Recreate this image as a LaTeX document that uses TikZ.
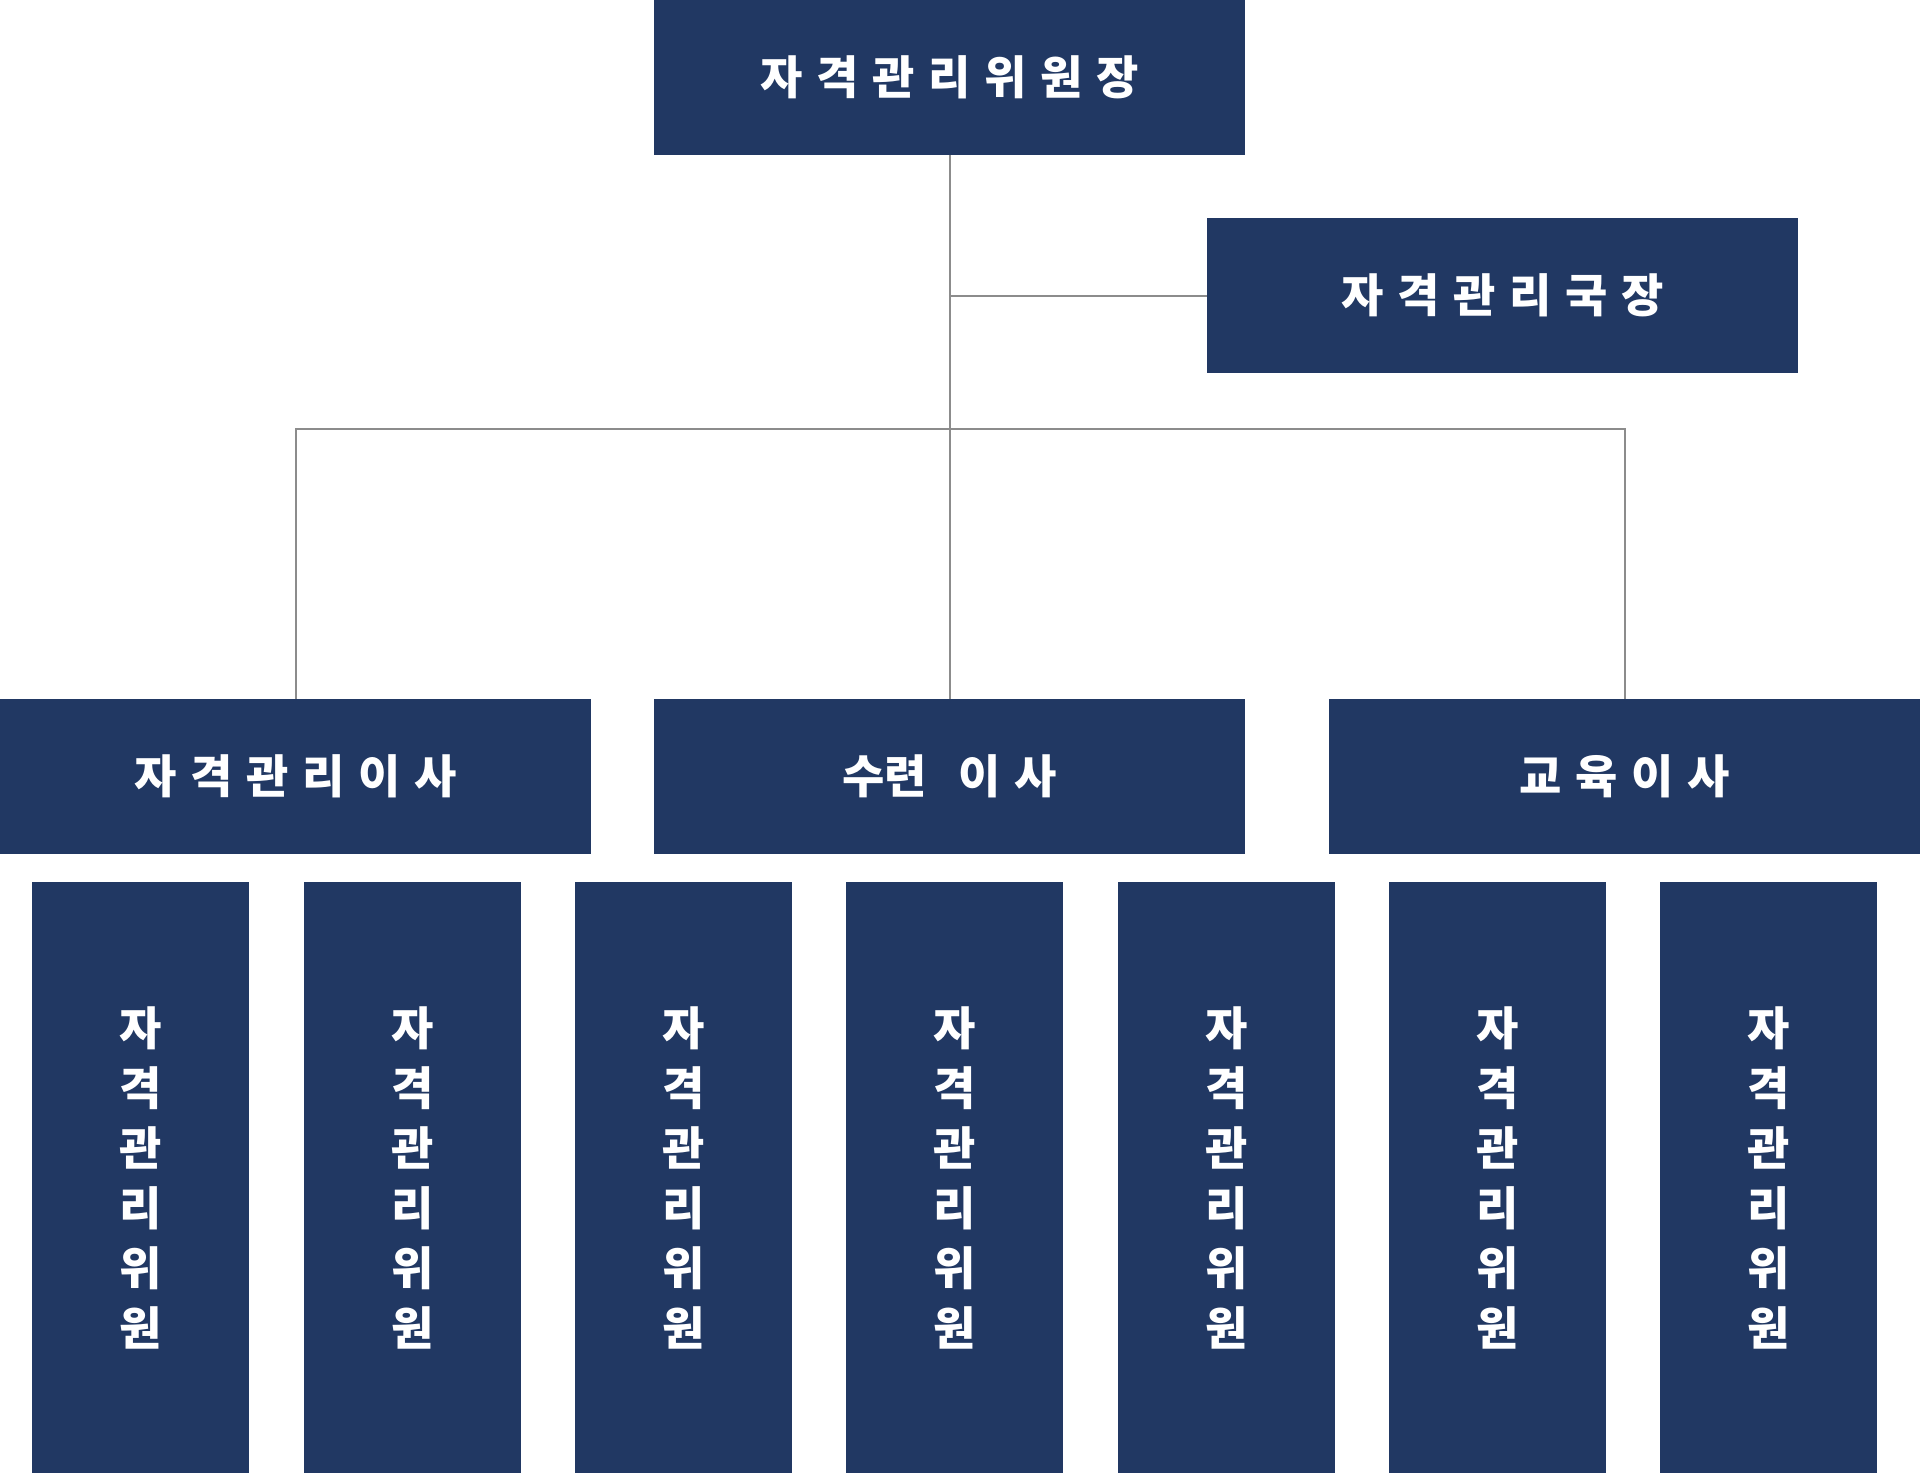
\documentclass[tikz,border=0pt]{standalone}
\usepackage{fontspec}
\newfontfamily\kr{Noto Sans CJK KR}[LetterSpace=30]
\newfontfamily\krtight{Noto Sans CJK KR}
\definecolor{navy}{HTML}{213863}
\definecolor{linegray}{HTML}{8C8C8C}
\begin{document}
\begin{tikzpicture}[x=1pt,y=-1pt,
  box/.style={fill=navy,draw=none,inner sep=0pt,anchor=north west,text=white},
  wide/.style={box,minimum width=591pt,minimum height=155pt,
    font=\kr\bfseries\fontsize{46}{60}\selectfont},
  tall/.style={box,minimum width=217pt,minimum height=591pt,align=center,
    font=\krtight\bfseries\fontsize{46}{60}\selectfont},
  conn/.style={draw=linegray,line width=2pt}]
\useasboundingbox (0,0) rectangle (1920,1473);
\node[wide] (chair) at (654,0) {자격관리위원장};
\node[wide] (dir) at (1207,218) {자격관리국장};
\node[wide] (b1) at (0,699) {자격관리이사};
\node[wide] (b2) at (654,699) {{\krtight 수련}\hspace{31pt}이사};
\node[wide] (b3) at (1329,699) {교육이사};
\foreach \x [count=\i] in {32,304,575,846,1118,1389,1660}{
  \node[tall] (m\i) at (\x,882) {자\\격\\관\\리\\위\\원};
}
\coordinate (bus) at (949,429);
\draw[conn] (chair.south) -- (b2.north);
\draw[conn] (chair.south |- dir.west) -- (dir.west);
\draw[conn] (b1.north) |- (bus) -| (b3.north);
\end{tikzpicture}
\end{document}
